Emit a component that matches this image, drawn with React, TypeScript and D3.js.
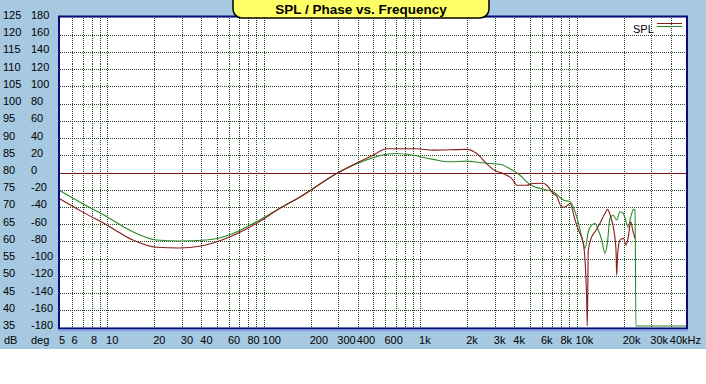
import { useMemo } from "react";
import * as d3 from "d3";

// ---- data ----
const dbTicks = [125, 120, 115, 110, 105, 100, 95, 90, 85, 80, 75, 70, 65, 60, 55, 50, 45, 40, 35];
const degTicks = [180, 160, 140, 120, 100, 80, 60, 40, 20, 0, -20, -40, -60, -80, -100, -120, -140, -160, -180];
const freqLabels = ["5", "6", "8", "10", "20", "30", "40", "60", "80", "100", "200", "300", "400", "600", "1k", "2k", "3k", "4k", "6k", "8k", "10k", "20k", "30k", "40kHz"];
const freqLabelValues = [5, 6, 8, 10, 20, 30, 40, 60, 80, 100, 200, 300, 400, 600, 1000, 2000, 3000, 4000, 6000, 8000, 10000, 20000, 30000, 40000];

const redFreq = [5, 7, 10, 14.6, 20.7, 29, 39, 58, 90, 127, 171, 293, 500, 612, 950, 1210, 1990, 2300, 2660, 2920, 3390, 3930, 4140, 4800, 5260, 6130, 6440, 7100, 7460, 8030, 8430, 9080, 9770, 10260, 11040, 11600, 11700, 11880, 12480, 13120, 14090, 15170, 15800, 16520, 17150, 17850, 18030, 18300, 18930, 19870, 20690, 21390, 22180, 22820, 23610];
const redDb = [72.3, 68.5, 64.7, 60.4, 58.3, 58.1, 58.6, 60.9, 65.2, 69.6, 72.9, 79.7, 85, 86.9, 86.9, 86.5, 86.7, 85.5, 82.6, 80.9, 79.7, 77.8, 76.3, 76.3, 76.8, 76.9, 76.3, 73.9, 73.1, 70, 70, 71, 66.2, 63.3, 59.4, 43, 35, 57.5, 61.3, 62.8, 65.2, 68.1, 69.3, 67.1, 64.2, 57.5, 50.2, 56.5, 60.4, 60.9, 58.9, 61.3, 65.7, 63.3, 60.9];

const greenFreq = [5, 7, 10, 14.6, 20.7, 29, 43, 64, 90, 127, 171, 293, 500, 612, 708, 900, 1210, 1550, 1990, 2410, 2800, 3240, 3750, 4350, 4800, 5260, 5830, 6440, 7100, 8220, 9080, 10020, 10790, 11320, 11880, 12480, 13120, 13760, 14470, 15170, 15710, 16340, 17150, 18030, 18930, 19870, 20690, 21390, 22180, 23120, 23610, 23940, 50000];
const greenDb = [74.7, 70.9, 67.1, 62.8, 60.4, 60.1, 60.4, 62.3, 65.7, 69.6, 72.9, 79.7, 84.3, 85.3, 85.5, 85, 83.8, 83.1, 83.3, 82.9, 82.6, 82.4, 81.1, 79.2, 77.3, 76, 75.4, 74.9, 74.4, 72, 71.5, 67.1, 61.3, 58, 62.8, 64.7, 65.2, 63.3, 60.4, 56.5, 59.4, 66.7, 67.6, 66.2, 68.6, 68.1, 65.7, 64.2, 67.1, 69.3, 69.1, 35, 35];

const title = "SPL / Phase vs. Frequency";

const W = 706;
const H = 384;
const plot = { left: 60, right: 686, top: 17.5, bottom: 327.5 };
const FONT = "'Liberation Sans', Arial, sans-serif";

export default function App() {
  const x = d3.scaleLog().domain([5, 50000]).range([plot.left, plot.right]);
  const y = d3.scaleLinear().domain([35, 125]).range([plot.bottom, plot.top]);
  const yDeg = d3.scaleLinear().domain([-180, 180]).range([plot.bottom, plot.top]);

  // vertical grid: every 1..9 of each decade inside the plot
  const vGrid = useMemo(() => {
    const out: number[] = [];
    for (let dec = 1; dec <= 10000; dec *= 10) {
      for (let m = 1; m <= 9; m++) {
        const f = m * dec;
        if (f > 5 && f < 50000) out.push(f);
      }
    }
    return out;
  }, []);
  const hGrid = d3.range(40, 125, 5);

  // values at the floor are drawn just above the frame, as in the original
  const line = d3
    .line<[number, number]>()
    .x((d) => x(d[0]))
    .y((d) => Math.min(plot.bottom - 1.5, y(d[1])))
    .curve(d3.curveMonotoneX);

  const redPath = line(redFreq.map((f, i) => [f, redDb[i]]));
  const greenPath = line(greenFreq.map((f, i) => [f, greenDb[i]]));

  return (
    <svg
      width={W}
      height={H}
      style={{ position: "fixed", left: 0, top: 0, display: "block", background: "#fff" }}
      fontFamily={FONT}
    >
      {/* background panel */}
      <rect x={0} y={0} width={W} height={349} fill="#a6c8e0" />

      {/* plot area */}
      <rect x={plot.left} y={plot.top} width={plot.right - plot.left} height={plot.bottom - plot.top} fill="#fff" />

      {/* grid */}
      <g stroke="#264626" strokeWidth={1} strokeDasharray="1,1" shapeRendering="crispEdges">
        {vGrid.map((f) => (
          <line key={"v" + f} x1={Math.round(x(f)) + 0.5} x2={Math.round(x(f)) + 0.5} y1={plot.top} y2={plot.bottom} />
        ))}
        {hGrid.map((v) => (
          <line key={"h" + v} x1={plot.left} x2={plot.right} y1={Math.round(y(v)) + 0.5} y2={Math.round(y(v)) + 0.5} />
        ))}
      </g>

      {/* 0 deg line */}
      <line x1={plot.left} x2={plot.right} y1={Math.round(yDeg(0)) + 0.5} y2={Math.round(yDeg(0)) + 0.5} stroke="#7a1414" strokeWidth={1} />

      {/* frame */}
      <rect x={plot.left - 1} y={plot.top - 1} width={plot.right - plot.left + 2} height={plot.bottom - plot.top + 2} fill="none" stroke="#0a0a78" strokeWidth={2} />
      <rect x={plot.left - 2} y={plot.bottom + 2} width={plot.right - plot.left + 4} height={2} fill="#8ea6ea" />

      {/* curves */}
      <path d={greenPath ?? ""} fill="none" stroke="#2a8a2a" strokeWidth={1.1} />
      <path d={redPath ?? ""} fill="none" stroke="#861c1c" strokeWidth={1.1} />

      {/* left axis labels */}
      <g fontSize={11} fill="#000">
        {dbTicks.map((v) => (
          <text key={"db" + v} x={3} y={y(v) + 1.5}>
            {v}
          </text>
        ))}
        {degTicks.map((v) => (
          <text key={"dg" + v} x={31} y={yDeg(v) + 1.5}>
            {v}
          </text>
        ))}
      </g>

      {/* bottom axis labels */}
      <g fontSize={11} fill="#000">
        <text x={4} y={344}>dB</text>
        <text x={31} y={344}>deg</text>
        {freqLabels.map((t, i) => (
          <text key={"f" + t} x={x(freqLabelValues[i]) - 1} y={344}>
            {t}
          </text>
        ))}
      </g>

      {/* title */}
      <rect x={233} y={-10} width={256} height={28} rx={9} ry={9} fill="#ffff66" stroke="#000" strokeWidth={1.5} />
      <text x={361} y={14} textAnchor="middle" fontSize={13.5} fontWeight="bold" fill="#000">
        {title}
      </text>

      {/* legend */}
      <text x={633} y={33} fontSize={11} fill="#000">
        SPL
      </text>
      <line x1={657} x2={682} y1={23.5} y2={23.5} stroke="#861c1c" strokeWidth={1} />
      <line x1={657} x2={682} y1={26.5} y2={26.5} stroke="#2a8a2a" strokeWidth={1} />
    </svg>
  );
}
